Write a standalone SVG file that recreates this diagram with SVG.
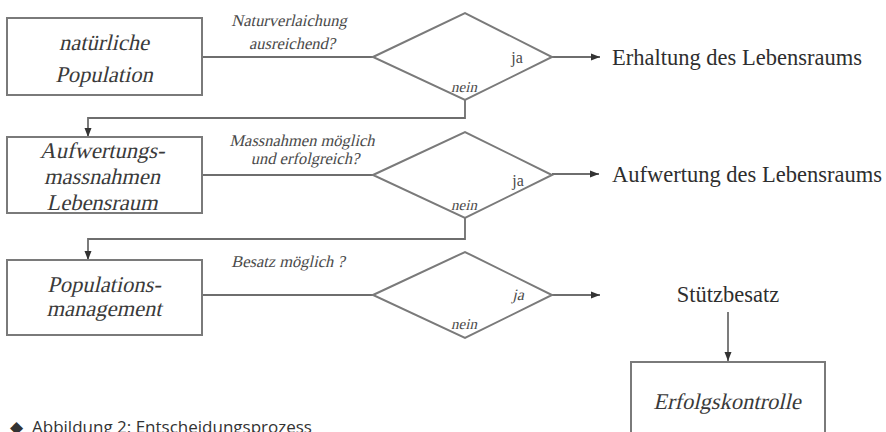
<svg xmlns="http://www.w3.org/2000/svg" width="886" height="432" viewBox="0 0 886 432">
<style>
.box{fill:#fff;stroke:#7a7a7a;stroke-width:2}
.dia{fill:#fff;stroke:#7a7a7a;stroke-width:2}
.ln{fill:none;stroke:#6e6e6e;stroke-width:1.8}
.bt{font-family:"Liberation Serif","Times New Roman",serif;font-size:22.5px;fill:#3a3a3a;text-anchor:middle}
.q{font-family:"Liberation Serif","Times New Roman",serif;font-size:16.5px;fill:#4a4a4a;text-anchor:middle}
.ja{font-family:"Liberation Serif","Times New Roman",serif;font-size:16px;fill:#4a4a4a;text-anchor:middle}
.nein{font-family:"Liberation Serif","Times New Roman",serif;font-size:15px;fill:#4a4a4a;text-anchor:middle}
.out{font-family:"Liberation Serif","Times New Roman",serif;font-size:22.5px;fill:#2e2e2e}
.cap{font-family:"Open Sans","Noto Sans",sans-serif;font-size:17px;fill:#333}
</style>
<defs>
<marker id="ah" markerUnits="userSpaceOnUse" markerWidth="10" markerHeight="8" refX="9" refY="4" orient="auto">
<path d="M0,0.5 L9,4 L0,7.5 z" fill="#333"/>
</marker>
</defs>
<rect width="886" height="432" fill="#fff"/>
<g id="connectors">
<line class="ln" x1="202" y1="57" x2="373" y2="57"/>
<line class="ln" x1="552" y1="57" x2="600" y2="57" marker-end="url(#ah)"/>
<polyline class="ln" points="465,100 465,118 88,118 88,137" marker-end="url(#ah)"/>
<line class="ln" x1="202" y1="175" x2="373" y2="175"/>
<line class="ln" x1="552" y1="174" x2="599" y2="174" marker-end="url(#ah)"/>
<polyline class="ln" points="465,218 465,239 88,239 88,260" marker-end="url(#ah)"/>
<line class="ln" x1="202" y1="295" x2="373" y2="295"/>
<line class="ln" x1="552" y1="295" x2="600" y2="295" marker-end="url(#ah)"/>
<line class="ln" x1="728" y1="312" x2="728" y2="361" marker-end="url(#ah)"/>
</g>
<g id="n1">
<rect class="box" x="7" y="18" width="195" height="77"/>
<text class="bt" transform="translate(104,50) skewX(-13)">natürliche</text>
<text class="bt" transform="translate(104,82) skewX(-13)">Population</text>
</g>
<g id="d1">
<polygon class="dia" points="373,57 465,13 552,57 465,100"/>
<text class="q" transform="translate(289,26) skewX(-13)">Naturverlaichung</text>
<text class="q" transform="translate(292,49) skewX(-13)">ausreichend?</text>
<text class="ja" x="517" y="63">ja</text>
<text class="nein" transform="translate(464,92) skewX(-13)">nein</text>
</g>
<g id="o1">
<text class="out" x="612" y="65">Erhaltung des Lebensraums</text>
</g>
<g id="n2">
<rect class="box" x="7" y="137" width="195" height="76"/>
<text class="bt" transform="translate(102,158) skewX(-13)">Aufwertungs-</text>
<text class="bt" transform="translate(102,184) skewX(-13)">massnahmen</text>
<text class="bt" transform="translate(102,210) skewX(-13)">Lebensraum</text>
</g>
<g id="d2">
<polygon class="dia" points="373,175 465,132 552,175 465,218"/>
<text class="q" transform="translate(302,146) skewX(-13)">Massnahmen möglich</text>
<text class="q" transform="translate(305,164) skewX(-13)">und erfolgreich?</text>
<text class="ja" x="518" y="186">ja</text>
<text class="nein" transform="translate(464,210) skewX(-13)">nein</text>
</g>
<g id="o2">
<text class="out" x="612" y="182">Aufwertung des Lebensraums</text>
</g>
<g id="n3">
<rect class="box" x="7" y="260" width="195" height="75"/>
<text class="bt" transform="translate(104,292) skewX(-13)">Populations-</text>
<text class="bt" transform="translate(104,316) skewX(-13)">management</text>
</g>
<g id="d3">
<polygon class="dia" points="373,295 465,252 552,295 465,338"/>
<text class="q" transform="translate(288,267) skewX(-13)">Besatz möglich ?</text>
<text class="ja" transform="translate(518,300) skewX(-13)">ja</text>
<text class="nein" transform="translate(464,329) skewX(-13)">nein</text>
</g>
<g id="o3">
<text class="out" x="728" y="302" text-anchor="middle">Stützbesatz</text>
</g>
<g id="n4">
<rect class="box" x="631" y="362" width="194" height="90"/>
<text class="bt" transform="translate(727,409) skewX(-13)">Erfolgskontrolle</text>
</g>
<g id="caption">
<text class="cap" x="16" y="433" text-anchor="middle" font-size="12">◆</text>
<text class="cap" x="32" y="433">Abbildung 2: Entscheidungsprozess</text>
</g>
</svg>
